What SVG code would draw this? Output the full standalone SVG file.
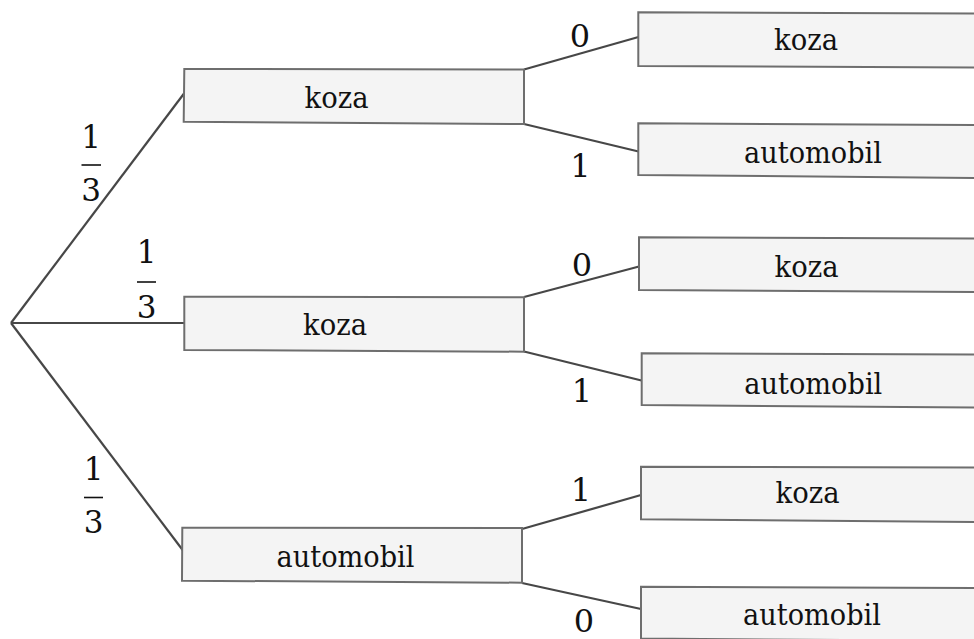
<svg xmlns="http://www.w3.org/2000/svg" width="974" height="639" viewBox="0 0 974 639">
<style>
.box{fill:#f4f4f4;stroke:#6e6e6e;stroke-width:2;stroke-linejoin:miter}
text{font-family:'DejaVu Serif','Liberation Serif',serif;fill:#111;text-anchor:middle}
.lbl{font-size:30px}
.num{font-size:32px}
.fr{font-size:31px}
.bar{stroke:#111;stroke-width:1.6}
.edge{stroke:#474747;stroke-width:2.2;fill:none}
</style>
<rect width="974" height="639" fill="#ffffff"/>
<g id="connectors">
<line class="edge" x1="11" y1="323" x2="184" y2="93.5"/>
<line class="edge" x1="11" y1="323" x2="184" y2="323"/>
<line class="edge" x1="11" y1="323" x2="183" y2="550.5"/>
<line class="edge" x1="524" y1="69.5" x2="638.5" y2="37"/>
<line class="edge" x1="524" y1="124" x2="638.5" y2="151.5"/>
<line class="edge" x1="524" y1="297" x2="639" y2="266.5"/>
<line class="edge" x1="524" y1="351.5" x2="641.5" y2="380.5"/>
<line class="edge" x1="522" y1="529" x2="641" y2="495"/>
<line class="edge" x1="522" y1="583" x2="641" y2="609"/>
<g id="edge-labels">
<text class="fr" x="91" y="148">1</text>
<line class="bar" x1="81.5" y1="165" x2="101" y2="165"/>
<text class="fr" x="91" y="200.5">3</text>
<text class="fr" x="146.5" y="263">1</text>
<line class="bar" x1="137" y1="282" x2="156" y2="282"/>
<text class="fr" x="146.5" y="318">3</text>
<text class="fr" x="93.5" y="480">1</text>
<line class="bar" x1="84" y1="497.5" x2="103" y2="497.5"/>
<text class="fr" x="93.5" y="533">3</text>
<text class="num" x="580" y="47">0</text>
<text class="num" x="580.5" y="176.5">1</text>
<text class="num" x="582" y="276">0</text>
<text class="num" x="582" y="401.5">1</text>
<text class="num" x="581" y="500.5">1</text>
<text class="num" x="584" y="632">0</text>
</g>
</g>
<g id="n-koza-1">
<polygon class="box" points="184.3,69 524,69.5 524,124 183.7,121.7"/>
<text class="lbl" x="336.5" y="108" textLength="64" lengthAdjust="spacingAndGlyphs">koza</text>
</g>
<g id="n-koza-2">
<polygon class="box" points="184.3,296.7 524,297.3 524,351.7 184.3,350"/>
<text class="lbl" x="335" y="335" textLength="64" lengthAdjust="spacingAndGlyphs">koza</text>
</g>
<g id="n-automobil-3">
<polygon class="box" points="182.3,527.7 522,528 522,582.7 182,580.7"/>
<text class="lbl" x="345.5" y="567" textLength="138" lengthAdjust="spacingAndGlyphs">automobil</text>
</g>
<g id="n-koza-1a">
<polygon class="box" points="638.3,12.3 978,13.5 978,67.5 638.3,66"/>
<text class="lbl" x="806" y="50" textLength="64" lengthAdjust="spacingAndGlyphs">koza</text>
</g>
<g id="n-automobil-1b">
<polygon class="box" points="638.3,123.3 978,125 978,178 638.3,175"/>
<text class="lbl" x="813" y="163" textLength="138" lengthAdjust="spacingAndGlyphs">automobil</text>
</g>
<g id="n-koza-2a">
<polygon class="box" points="639,237.3 978,238.5 978,292 639,290"/>
<text class="lbl" x="806.5" y="276.5" textLength="64" lengthAdjust="spacingAndGlyphs">koza</text>
</g>
<g id="n-automobil-2b">
<polygon class="box" points="641.7,353.3 978,354.5 978,407.5 641.7,405"/>
<text class="lbl" x="813.3" y="394" textLength="138" lengthAdjust="spacingAndGlyphs">automobil</text>
</g>
<g id="n-koza-3a">
<polygon class="box" points="641,466.7 978,467.5 978,522 641,519.3"/>
<text class="lbl" x="807.5" y="503.3" textLength="64" lengthAdjust="spacingAndGlyphs">koza</text>
</g>
<g id="n-automobil-3b">
<polygon class="box" points="641,586.7 978,588 978,641 641,638.5"/>
<text class="lbl" x="812" y="625" textLength="138" lengthAdjust="spacingAndGlyphs">automobil</text>
</g>
</svg>
